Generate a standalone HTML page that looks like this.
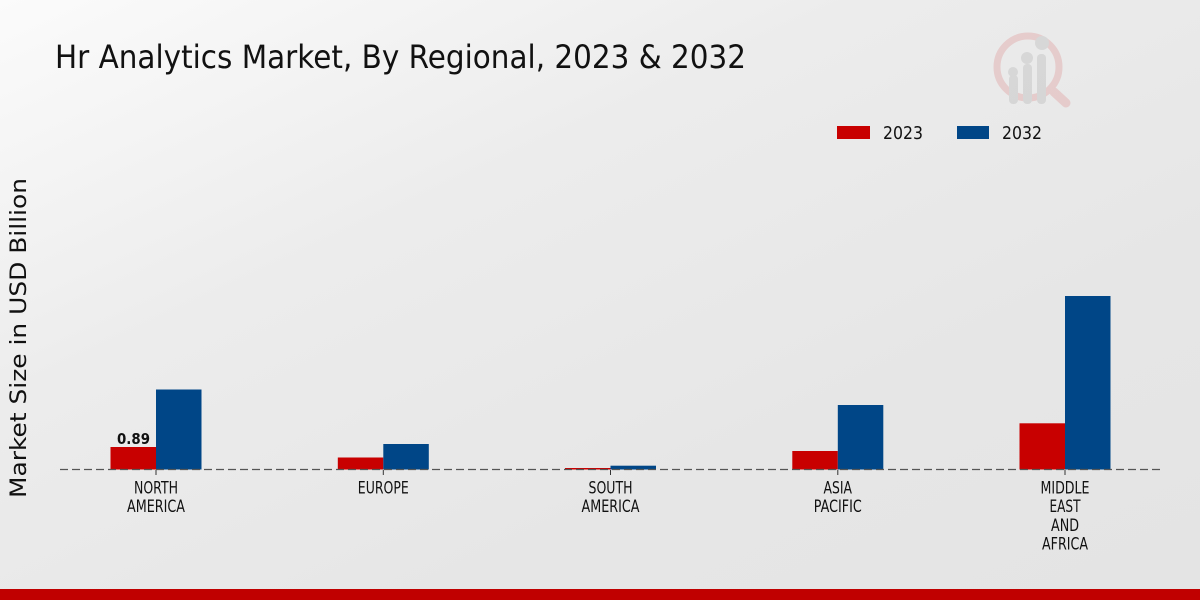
<!DOCTYPE html>
<html><head><meta charset="utf-8"><style>
html,body{margin:0;padding:0;}
body{width:1200px;height:600px;overflow:hidden;background:linear-gradient(155deg,#fbfbfb 0%,#ececec 35%,#e6e6e6 70%,#e4e4e4 100%);}
svg{display:block;}
text{font-family:"DejaVu Sans","Liberation Sans",sans-serif;fill:#111;}
</style></head><body>
<svg width="1200" height="600" viewBox="0 0 1200 600" xmlns="http://www.w3.org/2000/svg">
<!-- logo -->
<g opacity="0.55">
<circle cx="1028" cy="67" r="31" fill="none" stroke="#e2b4b4" stroke-width="7"/>
<line x1="1054" y1="92" x2="1066" y2="103" stroke="#e2b4b4" stroke-width="9" stroke-linecap="round"/>
<rect x="1009" y="75" width="9" height="29" rx="4" fill="#c8c8c8"/>
<rect x="1023" y="64" width="9" height="40" rx="4" fill="#c8c8c8"/>
<rect x="1037" y="54" width="9" height="50" rx="4" fill="#c8c8c8"/>
<circle cx="1013" cy="72" r="5" fill="#c8c8c8"/>
<circle cx="1027" cy="58" r="6" fill="#c8c8c8"/>
<circle cx="1042" cy="43" r="7" fill="#c8c8c8"/>
</g>
<!-- title -->
<text x="55" y="68" font-size="32" textLength="691" lengthAdjust="spacingAndGlyphs">Hr Analytics Market, By Regional, 2023 &amp; 2032</text>
<!-- legend -->
<rect x="837" y="126" width="33" height="13" fill="#c80000"/>
<text x="883" y="139" font-size="18" textLength="40" lengthAdjust="spacingAndGlyphs">2023</text>
<rect x="957" y="126" width="32" height="13" fill="#004687"/>
<text x="1002" y="139" font-size="18" textLength="40" lengthAdjust="spacingAndGlyphs">2032</text>
<!-- y label -->
<text transform="translate(26,338) rotate(-90)" text-anchor="middle" font-size="22" textLength="320" lengthAdjust="spacingAndGlyphs">Market Size in USD Billion</text>
<!-- bars -->
<g>
<rect x="110.5" y="447" width="45.5" height="22.5" fill="#c80000"/>
<rect x="156" y="389.5" width="45.5" height="80" fill="#004687"/>
<rect x="337.8" y="457.5" width="45.5" height="12" fill="#c80000"/>
<rect x="383.3" y="444" width="45.5" height="25.5" fill="#004687"/>
<rect x="565" y="468" width="45.5" height="1.5" fill="#c80000"/>
<rect x="610.5" y="465.7" width="45.5" height="3.8" fill="#004687"/>
<rect x="792.3" y="451" width="45.5" height="18.5" fill="#c80000"/>
<rect x="837.8" y="405" width="45.5" height="64.5" fill="#004687"/>
<rect x="1019.5" y="423.3" width="45.5" height="46.2" fill="#c80000"/>
<rect x="1065" y="296" width="45.5" height="173.5" fill="#004687"/>
</g>
<!-- baseline -->
<line x1="60" y1="469.5" x2="1160" y2="469.5" stroke="#555" stroke-width="1.3" stroke-dasharray="8,4"/>
<g stroke="#333" stroke-width="1">
<line x1="156" y1="470" x2="156" y2="475"/>
<line x1="383.3" y1="470" x2="383.3" y2="475"/>
<line x1="610.5" y1="470" x2="610.5" y2="475"/>
<line x1="837.8" y1="470" x2="837.8" y2="475"/>
<line x1="1065" y1="470" x2="1065" y2="475"/>
</g>
<!-- value label -->
<text x="133.5" y="444" text-anchor="middle" font-size="15" font-weight="bold" textLength="33" lengthAdjust="spacingAndGlyphs">0.89</text>
<!-- x labels -->
<g font-size="16.5" text-anchor="middle">
<text x="156" y="493.5" textLength="44" lengthAdjust="spacingAndGlyphs">NORTH</text>
<text x="156" y="512" textLength="58" lengthAdjust="spacingAndGlyphs">AMERICA</text>
<text x="383.3" y="493.5" textLength="51" lengthAdjust="spacingAndGlyphs">EUROPE</text>
<text x="610.5" y="493.5" textLength="44" lengthAdjust="spacingAndGlyphs">SOUTH</text>
<text x="610.5" y="512" textLength="58" lengthAdjust="spacingAndGlyphs">AMERICA</text>
<text x="837.8" y="493.5" textLength="28.5" lengthAdjust="spacingAndGlyphs">ASIA</text>
<text x="837.8" y="512" textLength="48" lengthAdjust="spacingAndGlyphs">PACIFIC</text>
<text x="1065" y="493.5" textLength="49" lengthAdjust="spacingAndGlyphs">MIDDLE</text>
<text x="1065" y="512" textLength="31" lengthAdjust="spacingAndGlyphs">EAST</text>
<text x="1065" y="531" textLength="28" lengthAdjust="spacingAndGlyphs">AND</text>
<text x="1065" y="549.5" textLength="46" lengthAdjust="spacingAndGlyphs">AFRICA</text>
</g>
<!-- bottom strip -->
<rect x="0" y="589" width="1200" height="11" fill="#c00000"/>
</svg>
</body></html>
